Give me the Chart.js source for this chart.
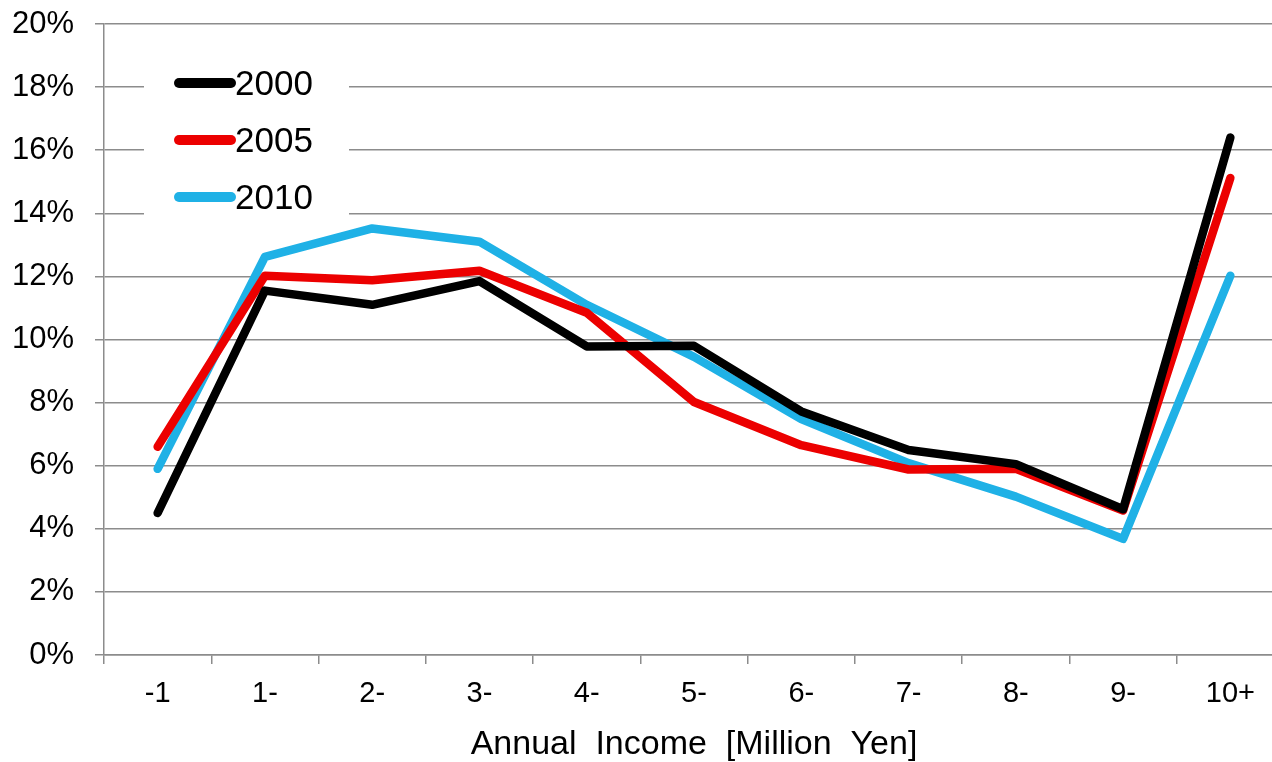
<!DOCTYPE html>
<html>
<head>
<meta charset="utf-8">
<script src="https://cdn.jsdelivr.net/npm/chart.js@4/dist/chart.umd.min.js"></script>
<style>
  html, body { margin: 0; padding: 0; background: #fff; overflow: hidden; }
  #wrap { width: 1290px; height: 762px; }
</style>
</head>
<body>
<div id="wrap"><canvas id="linechart" width="1290" height="762"></canvas></div>
<script>
const categories = ['-1', '1-', '2-', '3-', '4-', '5-', '6-', '7-', '8-', '9-', '10+'];
const years = ['2000', '2005', '2010'];
const values2000 = [4.5, 11.55, 11.1, 11.85, 9.78, 9.8, 7.72, 6.5, 6.05, 4.62, 16.4];
const values2005 = [6.6, 12.02, 11.88, 12.18, 10.85, 8.02, 6.65, 5.88, 5.9, 4.58, 15.12];
const values2010 = [5.9, 12.62, 13.52, 13.1, 11.1, 9.45, 7.48, 6.08, 5.02, 3.68, 12.02];
const yTickLabels = ['0%', '2%', '4%', '6%', '8%', '10%', '12%', '14%', '16%', '18%', '20%'];
const colors = ['#000000', '#ec0000', '#1fb1e6'];

const gridColor = '#8c8c8c';
const font = 'Liberation Sans, Arial, sans-serif';

// legend drawn inside the plot, on a white box, like the original
const insideLegend = {
  id: 'insideLegend',
  beforeDatasetsDraw(chart) {
    const {ctx, chartArea} = chart;
    ctx.save();
    ctx.fillStyle = '#fff';
    ctx.fillRect(chartArea.left + 40, chartArea.top + 30, 205, 172);
    ctx.restore();
  },
  afterDatasetsDraw(chart) {
    const {ctx, chartArea} = chart;
    ctx.save();
    chart.data.datasets.forEach((ds, i) => {
      const y = chartArea.top + 59 + i * 57;
      ctx.strokeStyle = ds.borderColor;
      ctx.lineWidth = 10;
      ctx.lineCap = 'round';
      ctx.beginPath();
      ctx.moveTo(chartArea.left + 75, y);
      ctx.lineTo(chartArea.left + 127, y);
      ctx.stroke();
      ctx.fillStyle = '#000';
      ctx.font = '35px ' + font;
      ctx.textBaseline = 'middle';
      ctx.textAlign = 'left';
      ctx.fillText(ds.label, chartArea.left + 131, y + 2);
    });
    ctx.restore();
  }
};

const series = [values2000, values2005, values2010];

new Chart(document.getElementById('linechart'), {
  type: 'line',
  data: {
    labels: categories,
    datasets: series.map((vals, i) => ({
      label: years[i],
      data: vals,
      borderColor: colors[i],
      backgroundColor: colors[i],
      borderWidth: 8.5,
      borderCapStyle: 'round',
      borderJoinStyle: 'round',
      pointRadius: 0,
      tension: 0
    }))
  },
  options: {
    responsive: false,
    animation: false,
    devicePixelRatio: 1,
    layout: { padding: { top: 24, right: 6, left: 0, bottom: 0 } },
    plugins: {
      legend: { display: false },
      tooltip: { enabled: false }
    },
    scales: {
      x: {
        offset: true,
        grid: {
          offset: true,
          drawOnChartArea: false,
          drawTicks: true,
          tickLength: 9,
          color: gridColor,
          lineWidth: 1.5
        },
        border: { display: true, color: gridColor, width: 1.5 },
        ticks: {
          color: '#000',
          font: { family: font, size: 29 },
          padding: 13,
          maxRotation: 0,
          autoSkip: false
        },
        title: {
          display: true,
          text: 'Annual  Income  [Million  Yen]',
          color: '#000',
          font: { family: font, size: 34 },
          padding: { top: 0, bottom: -3 }
        },
        afterFit(scale) {
          scale.height = 107;
          scale.paddingLeft = 0;
          scale.paddingRight = 0;
        }
      },
      y: {
        min: 0,
        max: 20,
        ticks: {
          stepSize: 2,
          color: '#000',
          font: { family: font, size: 31 },
          padding: 21,
          callback: (v, i) => yTickLabels[i]
        },
        grid: {
          color: gridColor,
          lineWidth: 1.5,
          tickLength: 9
        },
        border: { display: true, color: gridColor, width: 1.5 },
        afterFit(scale) {
          scale.width = 104;
          scale.paddingTop = 0;
          scale.paddingBottom = 0;
        }
      }
    }
  },
  plugins: [insideLegend]
});
</script>
</body>
</html>
